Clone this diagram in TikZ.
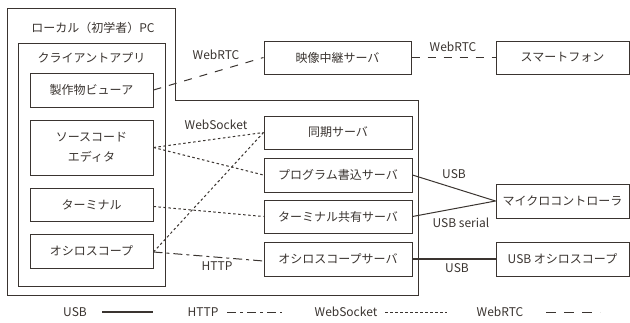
\documentclass[tikz,border=0pt]{standalone}
\usepackage{fontspec}
\setmainfont{Noto Sans CJK JP}
\definecolor{ink}{RGB}{58,52,48}
\tikzset{
  txt/.style={text=ink, font=\fontsize{12}{14}\selectfont, inner sep=0pt},
  box/.style={txt, draw=ink, line width=1pt, rectangle},
  usbline/.style={draw=ink, line width=1pt},
  usbthick/.style={draw=ink, line width=2pt},
  httpline/.style={draw=ink, line width=1pt, dash pattern=on 9pt off 4pt on 3pt off 4pt},
  wsline/.style={draw=ink, line width=1pt, dash pattern=on 2.5pt off 2.5pt},
  rtcline/.style={draw=ink, line width=1pt, dash pattern=on 8pt off 8pt},
  client/.style={box, minimum width=123pt},
  server/.style={box, minimum width=148pt, minimum height=33pt},
  device/.style={box, minimum width=133pt, minimum height=33pt},
}
\begin{document}
\begin{tikzpicture}[x=1pt, y=-1pt]
  \useasboundingbox (0,0) rectangle (630,322);

  % local PC outline and client application frame
  \draw[ink, line width=1pt] (7,8) -- (175,8) -- (175,100) -- (418,100) -- (418,295) -- (7,295) -- cycle;
  \node[txt] (pclbl) at (93,28) {ローカル（初学者）PC};
  \draw[ink, line width=1pt] (18,43) rectangle (165,286);
  \node[txt] (applbl) at (91.5,58) {クライアントアプリ};

  % client components
  \node[client, minimum height=34pt] (viewer) at (91.5,90) {製作物ビューア};
  \node[client, minimum height=55pt, align=center] (editor) at (91.5,147.5) {ソースコード\\[6pt]エディタ};
  \node[client, minimum height=33pt] (term) at (91.5,204.5) {ターミナル};
  \node[client, minimum height=34pt] (osc) at (91.5,251) {オシロスコープ};

  % servers
  \node[server, minimum width=147pt] (relay) at (337.5,57.5) {映像中継サーバ};
  \node[server] (sync) at (338,132.5) {同期サーバ};
  \node[server, minimum height=34pt] (prog) at (338,175) {プログラム書込サーバ};
  \node[server] (tshare) at (338,216.5) {ターミナル共有サーバ};
  \node[server, minimum height=34pt] (oscsrv) at (338,259) {オシロスコープサーバ};

  % external devices
  \node[device] (phone) at (562.5,57.5) {スマートフォン};
  \node[device, minimum height=34pt] (mcu) at (562.5,201) {マイクロコントローラ};
  \node[device, minimum height=34pt] (usbosc) at (562.5,259) {USB オシロスコープ};

  % connections
  \draw[rtcline] (viewer.east) -- (relay.west);
  \draw[rtcline] (relay.east) -- (phone.west);
  \draw[wsline] (editor.east) -- (sync.west);
  \draw[wsline] (editor.east) -- (prog.west);
  \draw[wsline] ([yshift=-2pt]term.east) -- (tshare.west);
  \draw[wsline] ([yshift=-1pt]osc.east) -- (sync.west);
  \draw[httpline] ([yshift=-1pt]osc.east) -- ([yshift=-2pt]oscsrv.west);
  \draw[usbline] (prog.east) -- (mcu.west);
  \draw[usbline] (tshare.east) -- (mcu.west);
  \draw[usbthick] (oscsrv.east) -- (usbosc.west);

  % connection labels
  \node[txt] (lrtc1) at (216,55) {WebRTC};
  \node[txt] (lrtc2) at (453,47) {WebRTC};
  \node[txt] (lws) at (216,125) {WebSocket};
  \node[txt] (lhttp) at (217,266) {HTTP};
  \node[txt] (lusb1) at (454,174) {USB};
  \node[txt] (lser) at (461,223) {USB serial};
  \node[txt] (lusb2) at (457,268) {USB};

  % legend
  \node[txt] (kusb) at (75,312) {USB};
  \coordinate (kusbA) at (102,312); \coordinate (kusbB) at (153,312);
  \draw[usbthick] (kusbA) -- (kusbB);
  \node[txt] (khttp) at (203,312) {HTTP};
  \coordinate (khttpA) at (227,312); \coordinate (khttpB) at (282,312);
  \draw[httpline] (khttpA) -- (khttpB);
  \node[txt] (kws) at (346,312) {WebSocket};
  \coordinate (kwsA) at (385,312); \coordinate (kwsB) at (447,312);
  \draw[wsline] (kwsA) -- (kwsB);
  \node[txt] (krtc) at (500,312) {WebRTC};
  \coordinate (krtcA) at (546,312); \coordinate (krtcB) at (600,312);
  \draw[rtcline, dash pattern=on 10pt off 8pt] (krtcA) -- (krtcB);
\end{tikzpicture}
\end{document}
